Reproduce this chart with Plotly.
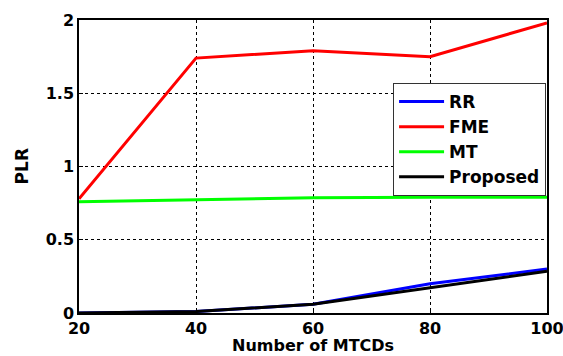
import plotly.graph_objects as go

x_vals = [20, 40, 60, 80, 100]
rr = [0.0, 0.01, 0.06, 0.20, 0.30]
fme = [0.78, 1.74, 1.79, 1.75, 1.98]
mt = [0.76, 0.775, 0.787, 0.79, 0.79]
proposed = [0.0, 0.01, 0.06, 0.17, 0.285]

series = [("RR", rr, "#0000ff"), ("FME", fme, "#ff0000"), ("MT", mt, "#00ff00"), ("Proposed", proposed, "#000000")]

fig = go.Figure()
for name, vals, col in series:
    fig.add_trace(go.Scatter(x=x_vals, y=vals, mode="lines", name=name,
                             line=dict(color=col, width=3)))

FAM = "DejaVu Sans, Arial, sans-serif"
tick_font = dict(family=FAM, size=16, color="black", weight="bold")
title_font = dict(family=FAM, size=16, color="black", weight="bold")

fig.update_layout(
    width=563, height=356,
    margin=dict(l=79, r=16, t=20, b=43),
    paper_bgcolor="white", plot_bgcolor="white",
    font=tick_font,
    showlegend=True,
    legend=dict(x=0.998, xanchor="right", y=0.785, yanchor="top",
                bgcolor="white", bordercolor="#333333", borderwidth=1,
                font=dict(family=FAM, size=17, color="black", weight="bold"),
                tracegroupgap=0, itemwidth=45),
    annotations=[
        dict(text="Number of MTCDs", xref="paper", yref="paper",
             x=0.5, y=-0.111, xanchor="center", yanchor="middle",
             showarrow=False, font=title_font),
        dict(text="PLR", xref="paper", yref="paper", textangle=-90,
             x=-0.122, y=0.5, xanchor="center", yanchor="middle",
             showarrow=False, font=dict(family=FAM, size=17, color="black", weight="bold")),
    ],
)
fig.update_xaxes(range=[20, 100], tickvals=[20, 40, 60, 80, 100], automargin=False,
                 showgrid=True, gridcolor="black", griddash="dot", gridwidth=1,
                 showline=True, linecolor="black", linewidth=1.5, mirror=True,
                 ticks="inside", ticklen=4, tickcolor="black",
                 zeroline=False, tickfont=tick_font, ticklabeloverflow="allow")
fig.update_yaxes(range=[0, 2], tickvals=[0, 0.5, 1, 1.5, 2], ticktext=["0", "0.5", "1", "1.5", "2"],
                 automargin=False,
                 showgrid=True, gridcolor="black", griddash="dot", gridwidth=1,
                 showline=True, linecolor="black", linewidth=1.5, mirror=True,
                 ticks="inside", ticklen=4, tickcolor="black",
                 zeroline=False, tickfont=tick_font)

fig.write_html("out.html", config={"displayModeBar": False},
               post_script="document.body.style.margin='0';document.body.style.overflow='hidden';")
